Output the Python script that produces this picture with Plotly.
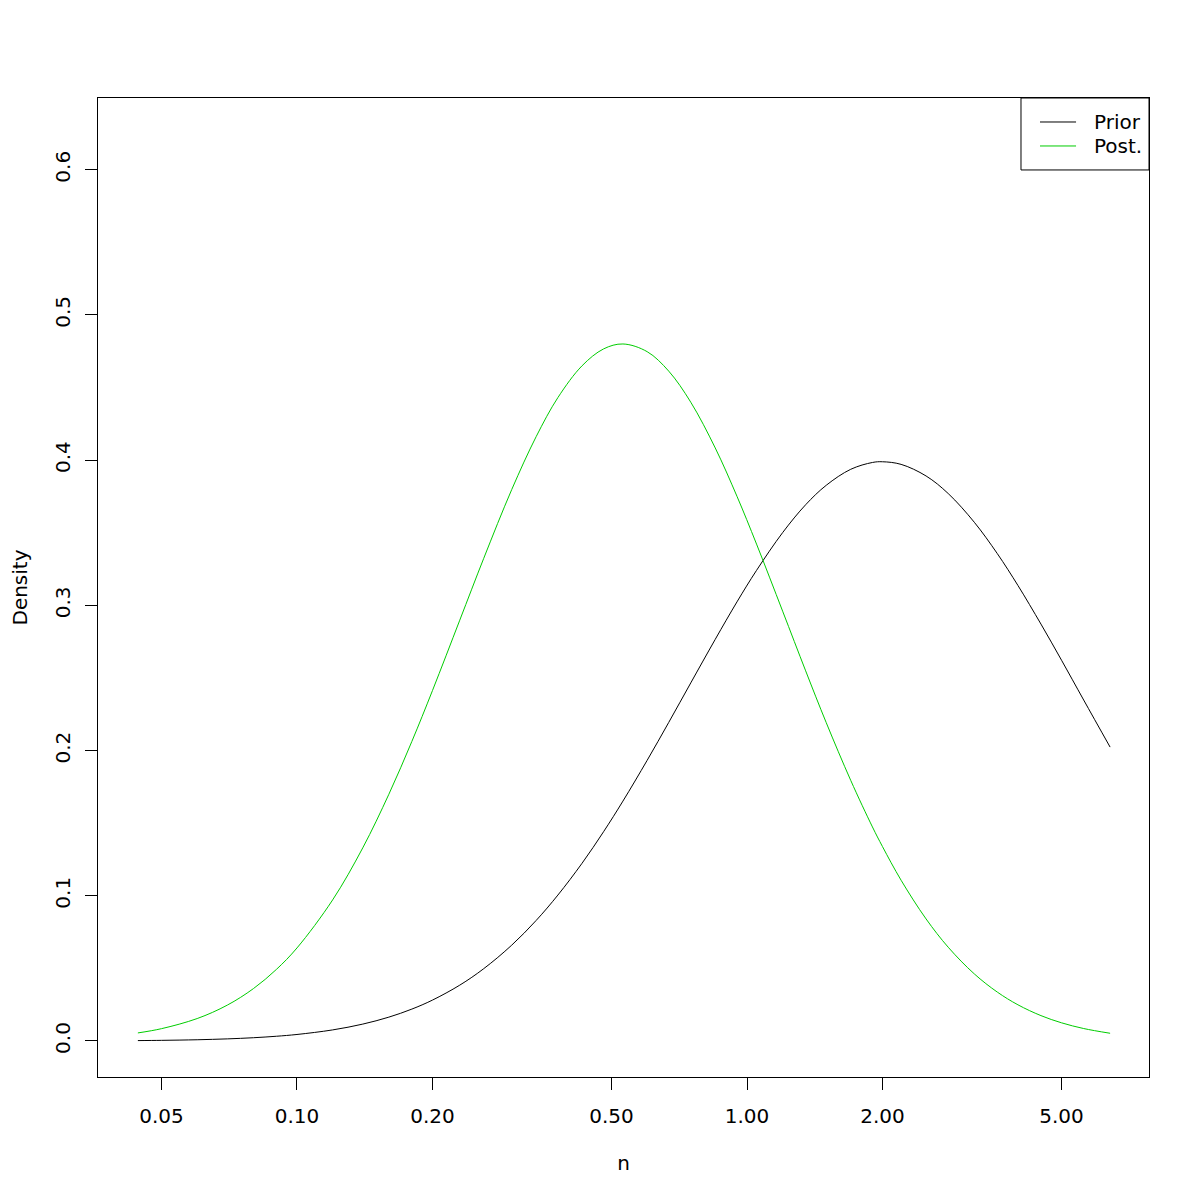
import plotly.graph_objects as go

# values (x on log scale)
n_vals = [0.0443, 0.05, 0.06, 0.07, 0.08, 0.09, 0.10, 0.12, 0.14, 0.16, 0.18, 0.20,
          0.23, 0.26, 0.30, 0.34, 0.38, 0.43, 0.48, 0.53, 0.60, 0.67, 0.75, 0.85,
          0.95, 1.05, 1.20, 1.35, 1.50, 1.70, 1.90, 2.00, 2.20, 2.50, 2.80, 3.20,
          3.60, 4.00, 4.50, 5.00, 5.60, 6.41]
prior_vals = [0.00028, 0.00044, 0.00085, 0.00145, 0.00225, 0.00326, 0.00449, 0.00762,
              0.01163, 0.01643, 0.02197, 0.02816, 0.03847, 0.04980, 0.06598, 0.08301,
              0.1005, 0.1224, 0.1441, 0.1652, 0.1933, 0.2194, 0.2466, 0.2766, 0.3024,
              0.3241, 0.3501, 0.3693, 0.3827, 0.3937, 0.3984, 0.3989, 0.3971, 0.3891,
              0.3770, 0.3572, 0.3356, 0.3137, 0.2871, 0.2622, 0.2348, 0.2024]
post_vals = [0.00555, 0.00849, 0.01545, 0.02469, 0.03606, 0.04929, 0.06407, 0.09715,
             0.1330, 0.1699, 0.2063, 0.2413, 0.2898, 0.3324, 0.3797, 0.4162, 0.4431,
             0.4650, 0.4766, 0.4800, 0.4747, 0.4613, 0.4399, 0.4084, 0.3751, 0.3422,
             0.2960, 0.2549, 0.2192, 0.1795, 0.1474, 0.1339, 0.1107, 0.08405, 0.06456,
             0.04619, 0.03366, 0.02492, 0.01747, 0.01251, 0.00857, 0.00533]
x_tickvals = [0.05, 0.10, 0.20, 0.50, 1.00, 2.00, 5.00]
x_ticktext = ["0.05", "0.10", "0.20", "0.50", "1.00", "2.00", "5.00"]
y_tickvals = [0.0, 0.1, 0.2, 0.3, 0.4, 0.5, 0.6]
y_ticktext = ["0.0", "0.1", "0.2", "0.3", "0.4", "0.5", "0.6"]
legend_names = ["Prior", "Post."]

FONT = "DejaVu Sans"
FS = 20
GREEN = "#00cd00"
colors = ["black", GREEN]

fig = go.Figure()
for name, vals, col in zip(legend_names, [prior_vals, post_vals], colors):
    fig.add_trace(go.Scatter(x=n_vals, y=vals, mode="lines", name=name,
                             showlegend=False,
                             line=dict(color=col, width=1, shape="spline")))

# legend drawn R-style, anchored in the top-right corner of the plot box
shapes = [dict(type="rect", xref="x domain", yref="y domain",
               x0=0.8782, x1=1.0, y0=0.9265, y1=1.0,
               line=dict(color="black", width=1), fillcolor="white", layer="above")]
annotations = []
row_y = [0.9755, 0.9510]
for name, col, yy in zip(legend_names, colors, row_y):
    shapes.append(dict(type="line", xref="x domain", yref="y domain",
                       x0=0.8963, x1=0.9306, y0=yy, y1=yy,
                       line=dict(color=col, width=1), layer="above"))
    annotations.append(dict(xref="x domain", yref="y domain", x=0.9458, y=yy,
                            text=name, showarrow=False, xanchor="left",
                            yanchor="middle",
                            font=dict(family=FONT, size=FS, color="black")))

fig.update_layout(
    width=1200, height=1200,
    margin=dict(l=90, r=59, t=90, b=131, pad=0),
    paper_bgcolor="white", plot_bgcolor="white",
    font=dict(family=FONT, size=FS, color="black"),
    showlegend=False,
    shapes=shapes, annotations=annotations,
)
fig.update_xaxes(
    type="log", range=[-1.4422, 0.8933], automargin=False,
    tickvals=x_tickvals, ticktext=x_ticktext,
    ticks="outside", ticklen=12, tickcolor="black", tickwidth=1,
    showline=True, linecolor="black", linewidth=1, mirror=True,
    showgrid=False, zeroline=False,
    ticklabelstandoff=9,
    title=dict(text="n", standoff=28, font=dict(family=FONT, size=FS)),
)
fig.update_yaxes(
    range=[-0.0248, 0.6494], automargin=False,
    tickvals=y_tickvals, ticktext=y_ticktext, tickangle=-90,
    ticks="outside", ticklen=12, tickcolor="black", tickwidth=1,
    showline=True, linecolor="black", linewidth=1, mirror=True,
    showgrid=False, zeroline=False,
    ticklabelstandoff=7,
    title=dict(text="Density", standoff=27, font=dict(family=FONT, size=FS)),
)

fig.write_html("out.html")
